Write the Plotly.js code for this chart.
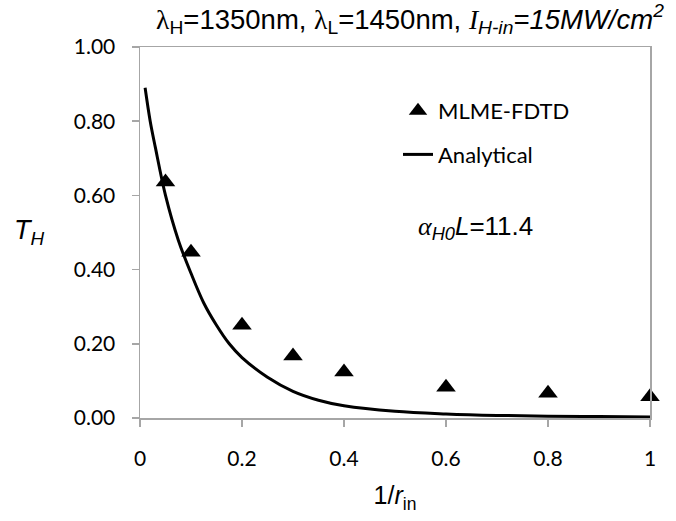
<!DOCTYPE html>
<html>
<head>
<meta charset="utf-8">
<script src="https://cdn.plot.ly/plotly-3.0.1.min.js"></script>
<style>html,body{margin:0;padding:0;background:#fff;}#chart{width:676px;height:521px;}</style>
</head>
<body>
<div id="chart"></div>
<script>
// FDTD simulation points
const fdtdX = [0.05, 0.1, 0.2, 0.3, 0.4, 0.6, 0.8, 1.0];
const fdtdY = [0.636, 0.447, 0.25, 0.167, 0.124, 0.083, 0.067, 0.057];
// Analytical curve
const anaX = [0.01, 0.02, 0.03, 0.05, 0.075, 0.1, 0.125, 0.15, 0.175, 0.2, 0.25, 0.3, 0.35, 0.4, 0.5, 0.6, 0.7, 0.8, 0.9, 1.0];
const anaY = [0.89, 0.80, 0.73, 0.60, 0.48, 0.39, 0.31, 0.25, 0.20, 0.163, 0.11, 0.072, 0.048, 0.033, 0.018, 0.011, 0.007, 0.005, 0.004, 0.003];
const xTicks = [0, 0.2, 0.4, 0.6, 0.8, 1];
const xTickText = ['0', '0.2', '0.4', '0.6', '0.8', '1'];
const yTicks = [0, 0.2, 0.4, 0.6, 0.8, 1];
const yTickText = ['0.00', '0.20', '0.40', '0.60', '0.80', '1.00'];

const tickFont = {family: 'Lato, sans-serif', size: 21, color: '#000'};
const axisCol = '#a6a6a6';

const traces = [
  {x: fdtdX, y: fdtdY, type: 'scatter', mode: 'markers', name: 'MLME-FDTD',
   legendgroup: 'a', marker: {symbol: 'triangle-up', size: 17, color: '#000'}, cliponaxis: false},
  {x: anaX, y: anaY, type: 'scatter', mode: 'lines', name: 'Analytical',
   legendgroup: 'b', line: {color: '#000', width: 3, shape: 'spline'}}
];

const layout = {
  width: 676, height: 521,
  margin: {l: 140, r: 26, t: 47, b: 103},
  paper_bgcolor: '#fff', plot_bgcolor: '#fff',
  title: {
    text: '<span style="font-family:\'Liberation Serif\'">λ</span><sub>H</sub>=1350nm, <span style="font-family:\'Liberation Serif\'">λ</span><sub>L</sub>=1450nm, <i><span style="font-family:\'Liberation Serif\'">I</span><sub>H-in</sub>=15MW/cm<sup>2</sup></i>',
    font: {family: 'Liberation Sans, Arial, sans-serif', size: 27.5, color: '#000'},
    x: 410/676, xanchor: 'center', y: 1 - 19/521, yanchor: 'middle'
  },
  xaxis: {
    range: [0, 1], tickvals: xTicks, ticktext: xTickText,
    showgrid: false, zeroline: false, showline: true, linecolor: axisCol, linewidth: 1.5,
    mirror: true, ticks: 'outside', ticklen: 7, tickcolor: axisCol, tickwidth: 1.5,
    tickfont: tickFont, ticklabelstandoff: 14,
    title: {text: '1/<i>r</i><sub>in</sub>', font: {family: 'Liberation Sans, Arial, sans-serif', size: 25, color: '#000'}, standoff: 18}
  },
  yaxis: {
    range: [0, 1], tickvals: yTicks, ticktext: yTickText,
    showgrid: false, zeroline: false, showline: true, linecolor: axisCol, linewidth: 1.5,
    mirror: true, ticks: 'outside', ticklen: 7, tickcolor: axisCol, tickwidth: 1.5,
    tickfont: tickFont, ticklabelstandoff: 12
  },
  showlegend: true,
  legend: {
    x: (398 - 140) / 510, xanchor: 'left', y: (418 - 90) / 371, yanchor: 'top',
    font: {family: 'Lato, sans-serif', size: 22, color: '#000'},
    bgcolor: 'rgba(0,0,0,0)', traceorder: 'grouped', tracegroupgap: 12
  },
  annotations: [
    {text: '<i><span style="font-family:\'Liberation Serif\'">α</span><sub>H0</sub>L</i>=11.4',
     xref: 'paper', yref: 'paper', x: (416 - 140) / 510, y: (418 - 227) / 371,
     xanchor: 'left', yanchor: 'middle', showarrow: false,
     font: {family: 'Liberation Sans, Arial, sans-serif', size: 26, color: '#000'}},
    {text: '<i>T<sub>H</sub></i>',
     xref: 'paper', yref: 'paper', x: (12 - 140) / 510, y: (418 - 232) / 371,
     xanchor: 'left', yanchor: 'middle', showarrow: false,
     font: {family: 'Liberation Sans, Arial, sans-serif', size: 27, color: '#000'}}
  ]
};

Plotly.newPlot('chart', traces, layout, {displayModeBar: false, staticPlot: true});
</script>
</body>
</html>
